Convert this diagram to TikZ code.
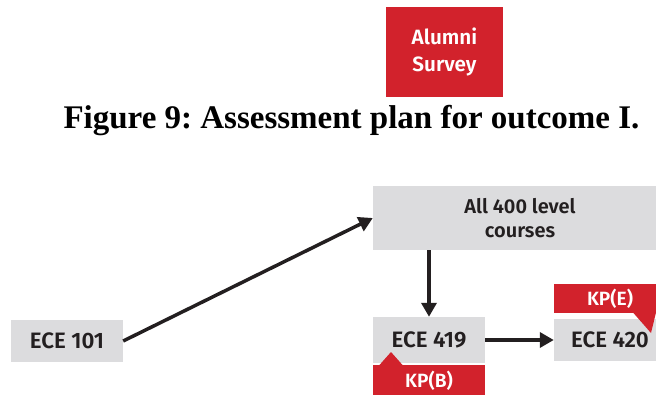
\documentclass[tikz,border=0pt]{standalone}
\usepackage{fontspec}
\newfontfamily\boxfont{Fira Sans SemiBold}
\newfontfamily\titlefont{Liberation Serif}
\usetikzlibrary{arrows.meta}
\definecolor{kpred}{RGB}{210,34,44}
\definecolor{boxgray}{RGB}{220,220,222}
\definecolor{inkdark}{RGB}{35,31,32}
\frenchspacing
\tikzset{
  course/.style={fill=boxgray,text=inkdark,minimum height=42pt,inner sep=0pt,
    font=\boxfont\fontsize{22.3}{24}\selectfont},
  tag/.style={fill=kpred,text=white,inner sep=0pt,
    font=\boxfont\fontsize{19.2}{22}\selectfont},
  flow/.style={-{Triangle[length=14pt,width=15pt]},line width=3.5pt,inkdark}
}
\begin{document}
\begin{tikzpicture}[x=1pt,y=-1pt]
            \useasboundingbox (0,0) rectangle (656,394);
            \clip (0,0) rectangle (656,394);
            \node[tag,minimum width=117pt,minimum height=90pt,align=center,
              font=\boxfont\fontsize{20.7}{27}\selectfont] (alumni) at (444.5,52) {Alumni\\Survey};
            \node[anchor=base,font=\titlefont\bfseries\fontsize{33}{40}\selectfont] (caption) at (351.5,128) {Figure 9: Assessment plan for outcome I.};
            \node[course,minimum width=294pt,minimum height=64pt,align=center,
              font=\boxfont\fontsize{20}{24}\selectfont] (all400) at (520,218) {All 400 level\\courses};
            \node[course,minimum width=112pt] (ece101) at (67,341) {ECE 101};
            \node[course,minimum width=112pt,minimum height=46pt] (ece419) at (429,340) {ECE 419};
            \node[course,minimum width=112pt] (ece420) at (610,340) {ECE 420};
            % red tags with their pointers
            \node[tag,minimum width=112pt,minimum height=31pt] (kpb) at (429,380.5) {KP(B)};
            \fill[kpred] (379,365.5) -- (391,352) -- (403,365.5) -- cycle;
            \node[tag,minimum width=112pt,minimum height=29pt] (kpe) at (610,298.5) {KP(E)};
            \fill[kpred] (633,312.5) -- (651,333) -- (656,312.5) -- cycle;
            % arrows
            \draw[flow] (ece101.east) -- (all400.west);
            \draw[flow] (ece419.north |- all400.south) -- (ece419.north);
            \draw[flow] (ece419.east) -- (ece420.west);
\end{tikzpicture}
\end{document}
